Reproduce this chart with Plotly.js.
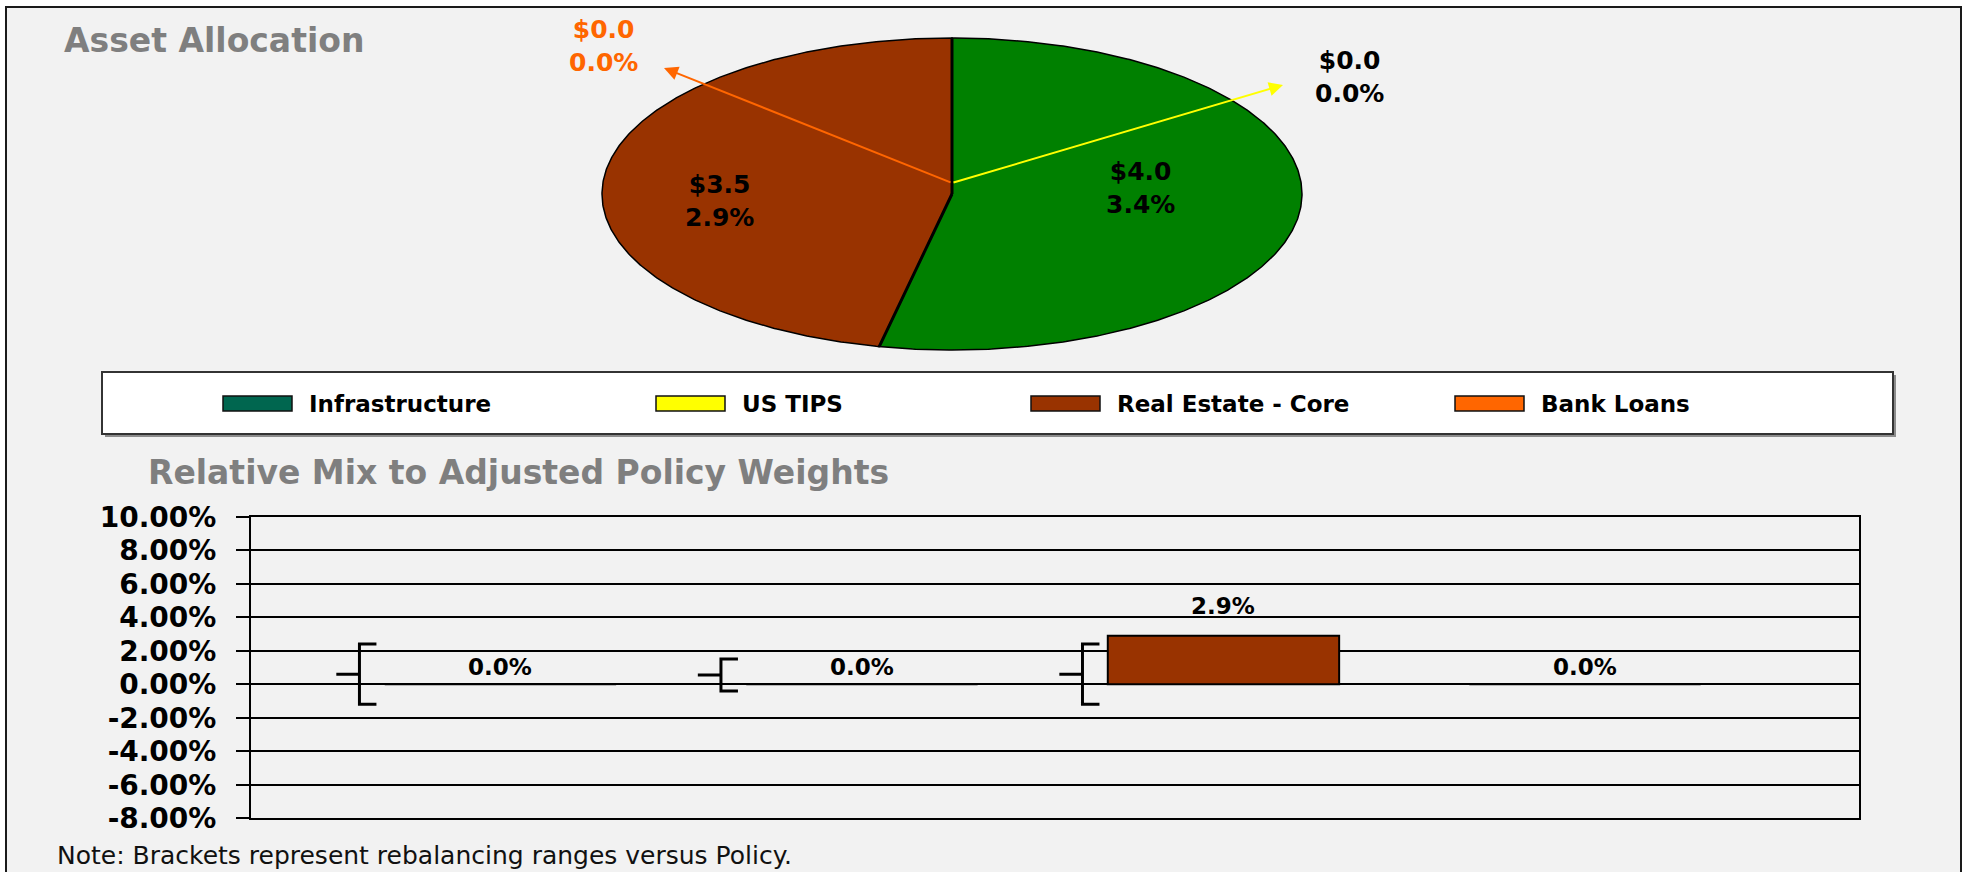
<!DOCTYPE html>
<html>
<head>
<meta charset="utf-8">
<script src="https://cdn.plot.ly/plotly-3.0.1.min.js"></script>
<style>
html, body { margin: 0; padding: 0; background: #ffffff; }
#chart { width: 1967px; height: 872px; }
</style>
</head>
<body>
<div id="chart"></div>
<script>
// ---------------- data ----------------
const categories = ['Infrastructure', 'US TIPS', 'Real Estate - Core', 'Bank Loans'];
const assetValues = [4.0, 0.0, 3.5, 0.0];      // $ amounts shown in the pie
const assetPercents = [3.4, 0.0, 2.9, 0.0];    // % of total shown in the pie
const relativeMix = [0.0, 0.0, 2.9, 0.0];      // relative mix vs adjusted policy (%)
const rangeLow = [-1.2, -0.4, -1.2, null];     // rebalancing range, low (%)
const rangeHigh = [2.4, 1.5, 2.4, null];       // rebalancing range, high (%)
const rangeMid = [0.6, 0.55, 0.6, null];       // bracket middle tick (%)
const yTickValues = [10, 8, 6, 4, 2, 0, -2, -4, -6, -8];
const yTickLabels = yTickValues.map(v => v.toFixed(2) + '%');

// ---------------- styles / layout helpers ----------------
const W = 1967, H = 872;
const PX = x => x / W;
const PY = y => 1 - y / H;
const FONT = 'DejaVu Sans, Verdana, Arial, sans-serif';
const sliceColors = ['#008000', '#FFFF00', '#993300', '#FF6600'];
const legendColors = ['#00664F', '#FFFF00', '#993300', '#FF6600'];
const labelColors = ['#000000', '#000000', '#000000', '#FF6600'];
const arrowColors = [null, '#FFFF00', null, '#FF6600'];
const TITLE_GRAY = '#7F7F7F';

// pie (drawn as a tilted / elliptical pie)
const PIE = { cx: 952, cy: 194, rx: 350, ry: 156, pad: 1.03, hubY: 183 };
const pieX = px => (px - PIE.cx) / PIE.rx;
const pieY = py => (PIE.cy - py) / PIE.ry;
// label anchor positions (pixels) and arrow tips for callouts
const pieLabelPos = [[1140, 188], [1349, 77], [719, 201], [603, 46]];
const pieArrowTip = [null, [1283, 85], null, [664, 68]];

// bar chart geometry
const PLOT = { left: 251, right: 1859, top: 516.7, bottom: 818.3 };
const X_RANGE = [-0.69, 3.758];
const BRACKET = { offset: -0.39, serif: 0.047, tick: 0.064 };

// legend geometry
const LEG = { x0: 102, y0: 372, x1: 1893, y1: 434, swX: [223, 656, 1031, 1455], swW: 69, swY0: 396, swY1: 411, textGap: 15, textY: 404 };

const traces = [];
const shapes = [];
const annotations = [];

// ---- background frame ----
shapes.push({ type: 'rect', xref: 'paper', yref: 'paper', layer: 'below',
  x0: PX(6), x1: PX(1961), y0: PY(7), y1: PY(900),
  fillcolor: '#F2F2F2', line: { color: '#1A1A1A', width: 2 } });

// ---- pie slices ----
const total = assetValues.reduce((a, b) => a + b, 0);
let acc = 0;
const sliceOrder = [0, 2, 1, 3];
const sliceGeom = categories.map((name, i) => {
  const a0 = acc / total * 2 * Math.PI;
  acc += assetValues[i];
  const a1 = acc / total * 2 * Math.PI;
  return [a0, a1];
});
sliceOrder.forEach(i => {
  const [a0, a1] = sliceGeom[i];
  const n = Math.max(1, Math.ceil((a1 - a0) / (Math.PI / 360)));
  const xs = [0], ys = [0];
  for (let k = 0; k <= n; k++) {
    const t = a0 + (a1 - a0) * k / n;
    xs.push(Math.sin(t));
    ys.push(Math.cos(t));
  }
  xs.push(0); ys.push(0);
  traces.push({
    type: 'scatter', mode: 'lines', x: xs, y: ys, xaxis: 'x2', yaxis: 'y2',
    fill: 'toself', fillcolor: sliceColors[i],
    line: { color: '#000000', width: assetValues[i] === 0 ? 3 : 1.5 },
    name: categories[i], showlegend: false, hoverinfo: 'text',
    text: categories[i] + ': $' + assetValues[i].toFixed(1) + ' (' + assetPercents[i].toFixed(1) + '%)'
  });
});

// pie labels & callout arrows
categories.forEach((name, i) => {
  const [lx, ly] = pieLabelPos[i];
  annotations.push({
    xref: 'paper', yref: 'paper', x: PX(lx), y: PY(ly), xanchor: 'center', yanchor: 'middle',
    showarrow: false, align: 'center',
    text: '$' + assetValues[i].toFixed(1) + '<br>' + assetPercents[i].toFixed(1) + '%',
    font: { family: FONT, size: 25, weight: 700, color: labelColors[i] }
  });
  if (pieArrowTip[i]) {
    annotations.push({
      xref: 'x2', yref: 'y2', axref: 'x2', ayref: 'y2',
      x: pieX(pieArrowTip[i][0]), y: pieY(pieArrowTip[i][1]),
      ax: 0, ay: pieY(PIE.hubY), text: '', showarrow: true,
      arrowhead: 2, arrowsize: 1.4, arrowwidth: 2, arrowcolor: arrowColors[i]
    });
  }
});

// ---- legend (custom box) ----
shapes.push({ type: 'rect', xref: 'paper', yref: 'paper', x0: PX(LEG.x0 + 3), x1: PX(LEG.x1 + 3), y0: PY(LEG.y1 + 3), y1: PY(LEG.y0 + 3),
  fillcolor: '#8C8C8C', line: { width: 0 } });
shapes.push({ type: 'rect', xref: 'paper', yref: 'paper', x0: PX(LEG.x0), x1: PX(LEG.x1), y0: PY(LEG.y1), y1: PY(LEG.y0),
  fillcolor: '#FFFFFF', line: { color: '#333333', width: 2 } });
categories.forEach((name, i) => {
  const sx = LEG.swX[i];
  shapes.push({ type: 'rect', xref: 'paper', yref: 'paper', x0: PX(sx), x1: PX(sx + LEG.swW), y0: PY(LEG.swY1), y1: PY(LEG.swY0),
    fillcolor: legendColors[i], line: { color: '#111111', width: 1.5 } });
  annotations.push({ xref: 'paper', yref: 'paper', x: PX(sx + LEG.swW + LEG.textGap), y: PY(LEG.textY),
    xanchor: 'left', yanchor: 'middle', showarrow: false, text: name,
    font: { family: FONT, size: 23, weight: 700, color: '#000000' } });
});

// ---- bar chart ----
traces.push({
  type: 'bar', x: categories, y: relativeMix, xaxis: 'x', yaxis: 'y', width: 0.64,
  marker: { color: sliceColors, line: { color: '#000000', width: 2 } },
  showlegend: false, hovertemplate: '%{x}: %{y:.1f}%<extra></extra>'
});
// rebalancing brackets
const bx = [], by = [];
categories.forEach((name, i) => {
  if (rangeLow[i] === null) return;
  const x = i + BRACKET.offset;
  bx.push(x + BRACKET.serif, x, x, x + BRACKET.serif, null, x - BRACKET.tick, x, null);
  by.push(rangeHigh[i], rangeHigh[i], rangeLow[i], rangeLow[i], null, rangeMid[i], rangeMid[i], null);
});
traces.push({
  type: 'scatter', mode: 'lines', x: bx, y: by, xaxis: 'x3', yaxis: 'y',
  line: { color: '#000000', width: 3 }, connectgaps: false, showlegend: false, hoverinfo: 'skip'
});
// bar value labels (zero-height bars get their label right on the baseline)
categories.forEach((name, i) => {
  annotations.push({ xref: 'x', yref: 'y', x: name, y: relativeMix[i], xanchor: 'center', yanchor: 'bottom',
    yshift: relativeMix[i] === 0 ? 2 : 15,
    showarrow: false, text: relativeMix[i].toFixed(1) + '%',
    font: { family: FONT, size: 23, weight: 700, color: '#000000' } });
});

// titles and note
annotations.push({ xref: 'paper', yref: 'paper', x: PX(146), y: PY(472), xanchor: 'left', yanchor: 'middle', showarrow: false,
  text: 'Relative Mix to Adjusted Policy Weights', font: { family: FONT, size: 33, weight: 700, color: TITLE_GRAY } });
annotations.push({ xref: 'paper', yref: 'paper', x: PX(55), y: PY(855), xanchor: 'left', yanchor: 'middle', showarrow: false,
  text: 'Note: Brackets represent rebalancing ranges versus Policy.', font: { family: FONT, size: 25, color: '#111111' } });

const layout = {
  width: W, height: H,
  margin: { l: 0, r: 0, t: 0, b: 0, pad: 0 },
  paper_bgcolor: '#FFFFFF', plot_bgcolor: 'rgba(0,0,0,0)',
  showlegend: false,
  title: { text: 'Asset Allocation', xref: 'paper', yref: 'paper', x: PX(64), xanchor: 'left', y: PY(40), yanchor: 'middle',
    font: { family: FONT, size: 33, weight: 700, color: TITLE_GRAY } },
  xaxis: {
    domain: [PX(PLOT.left), PX(PLOT.right)], anchor: 'y', type: 'category',
    categoryorder: 'array', categoryarray: categories, range: X_RANGE,
    showticklabels: false, ticks: '', showgrid: false, zeroline: false,
    showline: true, mirror: true, linecolor: '#000000', linewidth: 2, fixedrange: true
  },
  xaxis3: { overlaying: 'x', anchor: 'y', type: 'linear', range: X_RANGE, visible: false, fixedrange: true },
  yaxis: {
    domain: [PY(PLOT.bottom), PY(PLOT.top)], anchor: 'x', range: [-8, 10],
    tickvals: yTickValues, ticktext: yTickLabels,
    ticks: 'outside', ticklen: 13, tickwidth: 2, tickcolor: '#000000', ticklabelstandoff: 14,
    tickfont: { family: FONT, size: 28, weight: 700, color: '#000000' },
    showgrid: true, gridcolor: '#000000', gridwidth: 2, zeroline: false,
    showline: true, mirror: true, linecolor: '#000000', linewidth: 2, fixedrange: true
  },
  xaxis2: { domain: [PX(PIE.cx - PIE.rx * PIE.pad), PX(PIE.cx + PIE.rx * PIE.pad)], anchor: 'y2',
    range: [-PIE.pad, PIE.pad], visible: false, fixedrange: true },
  yaxis2: { domain: [PY(PIE.cy + PIE.ry * PIE.pad), PY(PIE.cy - PIE.ry * PIE.pad)], anchor: 'x2',
    range: [-PIE.pad, PIE.pad], visible: false, fixedrange: true },
  shapes: shapes,
  annotations: annotations
};

Plotly.newPlot('chart', traces, layout, { displayModeBar: false, responsive: false });
</script>
</body>
</html>
